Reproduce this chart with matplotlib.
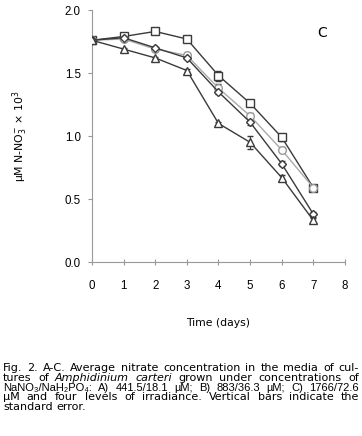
import numpy as np
import matplotlib
matplotlib.use("Agg")
import matplotlib.pyplot as plt

# Figure 2C - nitrate in media, four irradiance levels

days = [0, 1, 2, 3, 4, 5, 6, 7]
squares = [1.76, 1.79, 1.83, 1.77, 1.48, 1.26, 0.99, 0.59]
circles = [1.76, 1.77, 1.69, 1.64, 1.38, 1.16, 0.89, 0.59]
diamonds = [1.76, 1.78, 1.70, 1.62, 1.35, 1.11, 0.78, 0.38]
triangles = [1.76, 1.69, 1.62, 1.52, 1.10, 0.95, 0.67, 0.33]
err_sq = [0.01, 0.01, 0.02, 0.02, 0.04, 0.02, 0.03, 0.02]
err_ci = [0.01, 0.01, 0.01, 0.02, 0.03, 0.02, 0.02, 0.02]
err_di = [0.01, 0.01, 0.01, 0.01, 0.02, 0.02, 0.02, 0.02]
err_tr = [0.01, 0.01, 0.01, 0.01, 0.01, 0.05, 0.02, 0.02]
xticks = [0, 1, 2, 3, 4, 5, 6, 7, 8]
yticks = [0.0, 0.5, 1.0, 1.5, 2.0]

# caption words; a leading "_" marks an italic word
caption_lines = [
    "Fig. 2. A-C. Average nitrate concentration in the media of cul-",
    "tures of _Amphidinium _carteri grown under concentrations of",
    "NaNO₃/NaH₂PO₄: A) 441.5/18.1 µM; B) 883/36.3 µM; C) 1766/72.6",
    "µM and four levels of irradiance. Vertical bars indicate the",
    "standard error.",
]
# line 3 is set tighter in the original, so give it the narrower face
line_fams = ['DejaVu Sans', 'DejaVu Sans', 'Liberation Sans', 'DejaVu Sans', 'DejaVu Sans']

plt.rcParams['font.family'] = ['Liberation Sans', 'DejaVu Sans']
plt.rcParams['mathtext.fontset'] = 'dejavusans'

fig = plt.figure(figsize=(3.62, 4.36), dpi=100)
ax = fig.add_axes([0.254, 0.399, 0.699, 0.578])

dark = "#3a3a3a"
series = [
    (squares, err_sq, "s", dark, dark),
    (circles, err_ci, "o", "#aaaaaa", "#999999"),
    (diamonds, err_di, "D", dark, dark),
    (triangles, err_tr, "^", dark, dark),
]
for vals, err, mk, lc, ec in series:
    ax.errorbar(days, vals, yerr=err, color=lc, lw=1.0, marker=mk,
                ms=5.5 if mk != "D" else 4.5, mfc="white", mec=ec, mew=1.0,
                ecolor=dark, elinewidth=0.8, capsize=2, zorder=3)

ax.set_xlim(0, 8)
ax.set_ylim(0, 2.0)
ax.set_xticks(xticks)
ax.set_yticks(yticks)
ax.set_yticklabels(["%.1f" % v for v in yticks])
for s in ["top", "right"]:
    ax.spines[s].set_visible(False)
for s in ["left", "bottom"]:
    ax.spines[s].set_color("#999999")
    ax.spines[s].set_linewidth(0.8)
ax.tick_params(axis="x", direction="inout", length=4, color="#999999",
               labelsize=8.3, pad=11)
ax.tick_params(axis="y", direction="out", length=3, color="#999999",
               labelsize=8.3, pad=5)

ax.set_xlabel("Time (days)", fontsize=7.8, labelpad=19, family=['DejaVu Sans'])
ax.set_ylabel(r"µM N-NO$_3^{-}$ × 10$^3$", fontsize=7.8, labelpad=25,
              family=['DejaVu Sans'])
ax.text(7.28, 1.82, "C", fontsize=10, ha="center", va="center",
        family=['DejaVu Sans'])

# justified caption
fig.canvas.draw()
renderer = fig.canvas.get_renderer()
left_px, right_px = 3, 359
y_px = [368, 378, 388, 397, 407]
W, H = fig.bbox.width, fig.bbox.height
fs = 8.0
for i, line in enumerate(caption_lines):
    yf = 1 - y_px[i] / H
    words = line.split(" ")
    widths = []
    objs = []
    for w in words:
        style = "normal"
        if w.startswith("_"):
            w = w[1:]
            style = "italic"
        t = fig.text(0, yf, w, fontsize=fs, va="center", ha="left",
                     style=style, family=[line_fams[i], 'DejaVu Sans'])
        widths.append(t.get_window_extent(renderer).width)
        objs.append(t)
    if i == len(caption_lines) - 1:
        gap = 3.5
    else:
        gap = (right_px - left_px - sum(widths)) / (len(words) - 1)
    x = left_px
    for t, wd in zip(objs, widths):
        t.set_x(x / W)
        x += wd + gap

fig.savefig("out.png", dpi=100)
